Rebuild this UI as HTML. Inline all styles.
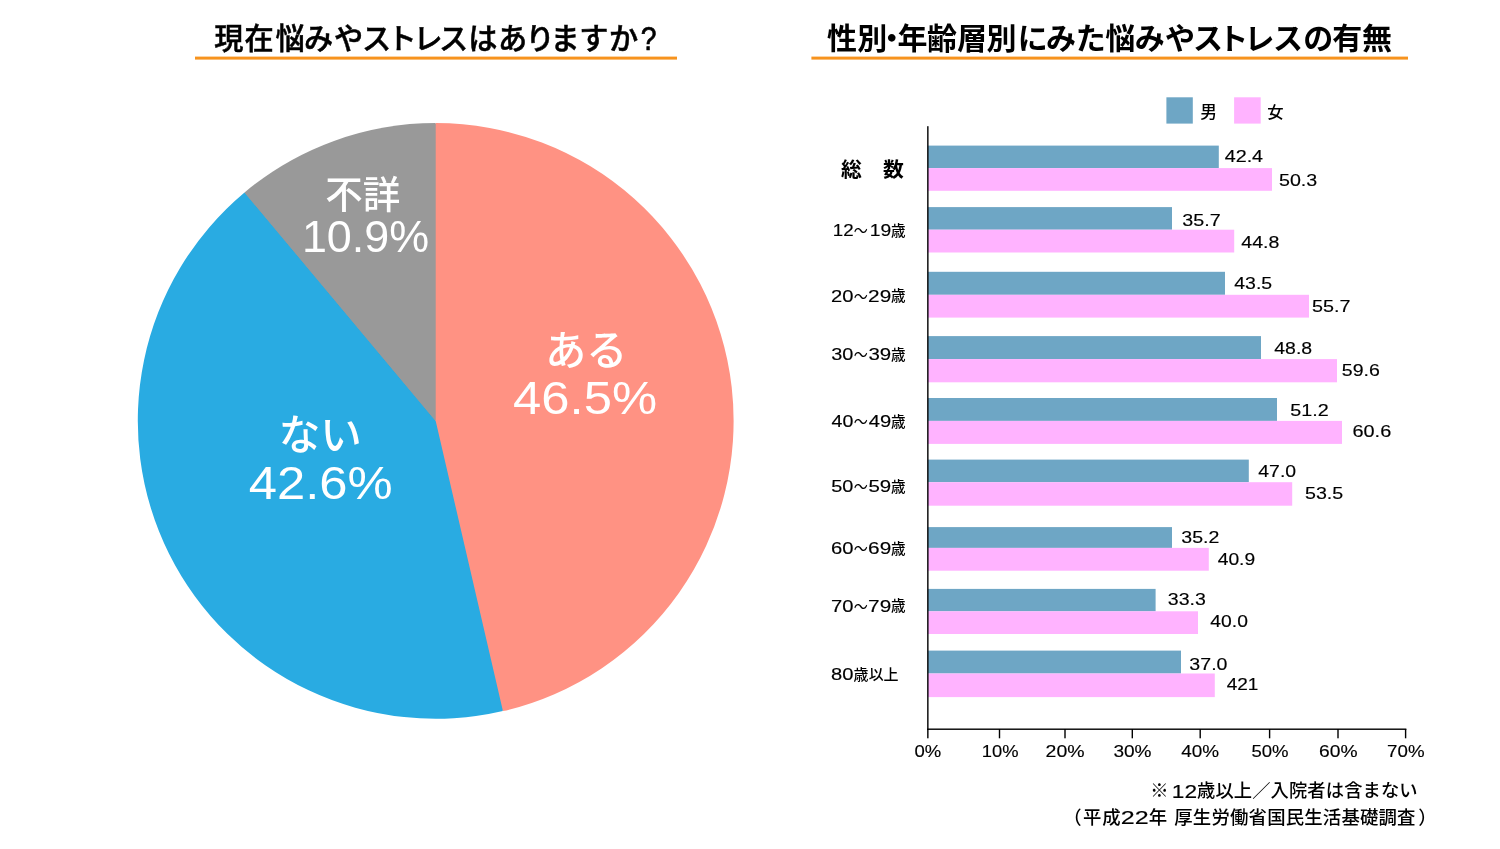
<!DOCTYPE html>
<html lang="ja">
<head>
<meta charset="utf-8">
<title>現在悩みやストレスはありますか?</title>
<style>
html,body{margin:0;padding:0;background:#fff;}
body{width:1500px;height:849px;overflow:hidden;}
svg{display:block;}
text{fill:#000;}
.la{font-family:"Liberation Sans","Noto Sans CJK JP",sans-serif;}
.jp{font-family:"Noto Sans CJK JP","Liberation Sans",sans-serif;}
.t1{font-weight:500;stroke:#000;stroke-width:0.5px;}
.t2{font-weight:700;}
</style>
</head>
<body>
<svg width="1500" height="849" viewBox="0 0 1500 849">
<rect width="1500" height="849" fill="#fff"/>

<text class="jp t1" y="48.9" font-size="29.2" x="214.2 244.4 275.5 303.9 334.0 362.1 387.5 413.6 439.1 468.2 498.1 525.4 550.6 579.3 608.9">現在悩みやストレスはありますか<tspan class="la" x="640.82" y="49.8" style="font-size:33px;font-weight:400;stroke:#000;stroke-width:0.7px" textLength="15.68" lengthAdjust="spacingAndGlyphs">?</tspan></text>
<rect x="195" y="56.6" width="482" height="3" fill="#F7931E"/>
<text class="jp t2" y="49.3" font-size="30" x="826.9 857.2 876.8 897.4 927.0 957.0 986.6 1017.7 1046.0 1075.8 1105.2 1134.8 1165.0 1193.1 1218.3 1244.4 1273.1 1303.2 1332.2 1362.1">性別・年齢層別にみた悩みやストレスの有無</text>
<rect x="811.4" y="56.6" width="596.6" height="3" fill="#F7931E"/>
<path d="M435.70,420.90 L638.34,637.90 A296.9,296.9 0 1 1 384.55,128.44 Z" fill="#29ABE2"/>
<path d="M435.70,420.90 L502.92,711.12 A297.9,297.9 0 0 1 244.53,192.43 Z" fill="#29ABE2"/>
<path d="M435.70,420.90 L245.17,193.20 A296.9,296.9 0 0 1 584.15,163.78 Z" fill="#999999"/>
<path d="M435.70,420.90 L244.53,192.43 A297.9,297.9 0 0 1 435.70,123.00 Z" fill="#999999"/>
<path d="M435.70,420.90 L435.70,123.00 A297.9,297.9 0 0 1 502.92,711.12 Z" fill="#FF9283"/>
<text class="jp" x="325.33" y="207.68" font-size="37.5" font-weight="500" style="fill:#fff">不詳</text>
<text class="la" x="301.90" y="252.40" font-size="43.6" style="fill:#fff" textLength="127.24" lengthAdjust="spacingAndGlyphs">10.9%</text>
<text class="jp" x="545.16" y="365.14" font-size="41" font-weight="500" style="fill:#fff">ある</text>
<text class="la" x="513.11" y="414.10" font-size="46.5" style="fill:#fff" textLength="143.90" lengthAdjust="spacingAndGlyphs">46.5%</text>
<text class="jp" x="278.66" y="449.71" font-size="41.5" font-weight="500" style="fill:#fff">ない</text>
<text class="la" x="248.71" y="499.10" font-size="46.5" style="fill:#fff" textLength="143.90" lengthAdjust="spacingAndGlyphs">42.6%</text>
<rect x="1166.4" y="97.3" width="26.4" height="26.3" fill="#6EA6C5"/>
<rect x="1234.1" y="97.3" width="26.6" height="26.3" fill="#FFB3FF"/>
<text class="jp" x="1200.17" y="118.33" font-size="16.8" font-weight="500">男</text>
<text class="jp" x="1267.33" y="118.46" font-size="16.4" font-weight="500">女</text>
<rect x="927.8" y="145.6" width="291.0" height="22.5" fill="#6EA6C5"/>
<rect x="927.8" y="168.1" width="344.2" height="22.7" fill="#FFB3FF"/>
<rect x="927.8" y="207.1" width="244.2" height="22.6" fill="#6EA6C5"/>
<rect x="927.8" y="229.7" width="306.4" height="22.8" fill="#FFB3FF"/>
<rect x="927.8" y="271.8" width="297.2" height="23.0" fill="#6EA6C5"/>
<rect x="927.8" y="294.8" width="381.2" height="22.8" fill="#FFB3FF"/>
<rect x="927.8" y="336.1" width="333.2" height="23.0" fill="#6EA6C5"/>
<rect x="927.8" y="359.1" width="409.2" height="23.2" fill="#FFB3FF"/>
<rect x="927.8" y="398.0" width="349.2" height="22.9" fill="#6EA6C5"/>
<rect x="927.8" y="420.9" width="414.2" height="23.0" fill="#FFB3FF"/>
<rect x="927.8" y="459.6" width="321.0" height="22.6" fill="#6EA6C5"/>
<rect x="927.8" y="482.2" width="364.4" height="23.5" fill="#FFB3FF"/>
<rect x="927.8" y="527.1" width="244.2" height="20.8" fill="#6EA6C5"/>
<rect x="927.8" y="547.9" width="281.0" height="22.8" fill="#FFB3FF"/>
<rect x="927.8" y="588.9" width="227.8" height="22.4" fill="#6EA6C5"/>
<rect x="927.8" y="611.3" width="270.2" height="22.7" fill="#FFB3FF"/>
<rect x="927.8" y="650.6" width="253.2" height="22.9" fill="#6EA6C5"/>
<rect x="927.8" y="673.5" width="287.0" height="23.6" fill="#FFB3FF"/>
<text class="la" x="1224.69" y="162.10" font-size="15.9" textLength="38.40" lengthAdjust="spacingAndGlyphs" stroke="#000" stroke-width="0.15">42.4</text>
<text class="la" x="1278.99" y="185.70" font-size="15.9" textLength="38.21" lengthAdjust="spacingAndGlyphs" stroke="#000" stroke-width="0.15">50.3</text>
<text class="la" x="1182.38" y="225.70" font-size="15.9" textLength="38.42" lengthAdjust="spacingAndGlyphs" stroke="#000" stroke-width="0.15">35.7</text>
<text class="la" x="1241.29" y="247.70" font-size="15.9" textLength="38.10" lengthAdjust="spacingAndGlyphs" stroke="#000" stroke-width="0.15">44.8</text>
<text class="la" x="1234.30" y="289.10" font-size="15.9" textLength="37.89" lengthAdjust="spacingAndGlyphs" stroke="#000" stroke-width="0.15">43.5</text>
<text class="la" x="1311.98" y="311.70" font-size="15.9" textLength="38.42" lengthAdjust="spacingAndGlyphs" stroke="#000" stroke-width="0.15">55.7</text>
<text class="la" x="1274.30" y="353.50" font-size="15.9" textLength="37.89" lengthAdjust="spacingAndGlyphs" stroke="#000" stroke-width="0.15">48.8</text>
<text class="la" x="1341.79" y="375.70" font-size="15.9" textLength="38.00" lengthAdjust="spacingAndGlyphs" stroke="#000" stroke-width="0.15">59.6</text>
<text class="la" x="1290.38" y="416.10" font-size="15.9" textLength="38.42" lengthAdjust="spacingAndGlyphs" stroke="#000" stroke-width="0.15">51.2</text>
<text class="la" x="1352.47" y="437.10" font-size="15.9" textLength="38.74" lengthAdjust="spacingAndGlyphs" stroke="#000" stroke-width="0.15">60.6</text>
<text class="la" x="1258.30" y="476.70" font-size="15.9" textLength="37.79" lengthAdjust="spacingAndGlyphs" stroke="#000" stroke-width="0.15">47.0</text>
<text class="la" x="1304.99" y="499.10" font-size="15.9" textLength="38.21" lengthAdjust="spacingAndGlyphs" stroke="#000" stroke-width="0.15">53.5</text>
<text class="la" x="1181.39" y="542.50" font-size="15.9" textLength="38.00" lengthAdjust="spacingAndGlyphs" stroke="#000" stroke-width="0.15">35.2</text>
<text class="la" x="1217.70" y="565.10" font-size="15.9" textLength="37.48" lengthAdjust="spacingAndGlyphs" stroke="#000" stroke-width="0.15">40.9</text>
<text class="la" x="1167.79" y="605.10" font-size="15.9" textLength="38.00" lengthAdjust="spacingAndGlyphs" stroke="#000" stroke-width="0.15">33.3</text>
<text class="la" x="1210.30" y="626.70" font-size="15.9" textLength="37.58" lengthAdjust="spacingAndGlyphs" stroke="#000" stroke-width="0.15">40.0</text>
<text class="la" x="1189.39" y="669.70" font-size="15.9" textLength="38.10" lengthAdjust="spacingAndGlyphs" stroke="#000" stroke-width="0.15">37.0</text>
<text class="la" x="1226.70" y="690.10" font-size="15.9" textLength="31.67" lengthAdjust="spacingAndGlyphs" stroke="#000" stroke-width="0.15">421</text>
<g fill="#000">
<rect x="927.15" y="126.2" width="1.4" height="603.7"/>
<rect x="927.15" y="728.5" width="479.2" height="1.4"/>
<rect x="927.15" y="729" width="1.4" height="9.3"/>
<rect x="998.80" y="729" width="1.4" height="9.3"/>
<rect x="1064.30" y="729" width="1.4" height="9.3"/>
<rect x="1131.60" y="729" width="1.4" height="9.3"/>
<rect x="1199.50" y="729" width="1.4" height="9.3"/>
<rect x="1268.90" y="729" width="1.4" height="9.3"/>
<rect x="1337.30" y="729" width="1.4" height="9.3"/>
<rect x="1404.90" y="729" width="1.4" height="9.3"/>
</g>
<text class="la" x="914.42" y="756.80" font-size="17.0" textLength="26.73" lengthAdjust="spacingAndGlyphs" stroke="#000" stroke-width="0.15">0%</text>
<text class="la" x="981.85" y="756.80" font-size="17.0" textLength="36.69" lengthAdjust="spacingAndGlyphs" stroke="#000" stroke-width="0.15">10%</text>
<text class="la" x="1045.59" y="756.80" font-size="17.0" textLength="38.99" lengthAdjust="spacingAndGlyphs" stroke="#000" stroke-width="0.15">20%</text>
<text class="la" x="1113.40" y="756.80" font-size="17.0" textLength="38.16" lengthAdjust="spacingAndGlyphs" stroke="#000" stroke-width="0.15">30%</text>
<text class="la" x="1181.30" y="756.80" font-size="17.0" textLength="37.86" lengthAdjust="spacingAndGlyphs" stroke="#000" stroke-width="0.15">40%</text>
<text class="la" x="1251.42" y="756.80" font-size="17.0" textLength="37.13" lengthAdjust="spacingAndGlyphs" stroke="#000" stroke-width="0.15">50%</text>
<text class="la" x="1319.10" y="756.80" font-size="17.0" textLength="38.47" lengthAdjust="spacingAndGlyphs" stroke="#000" stroke-width="0.15">60%</text>
<text class="la" x="1387.12" y="756.80" font-size="17.0" textLength="37.43" lengthAdjust="spacingAndGlyphs" stroke="#000" stroke-width="0.15">70%</text>
<text class="jp" x="840.90" y="176.65" font-size="20.8" font-weight="700">総</text>
<text class="jp" x="882.97" y="176.65" font-size="20.8" font-weight="700">数</text>
<text class="la" x="832.83" y="235.80" font-size="15.8" textLength="20.83" lengthAdjust="spacingAndGlyphs" stroke="#000" stroke-width="0.15">12</text>
<text class="jp" x="853.66" y="235.80" font-size="15" textLength="14.08" lengthAdjust="spacingAndGlyphs">～</text>
<text class="la" x="869.69" y="235.80" font-size="15.8" textLength="21.49" lengthAdjust="spacingAndGlyphs" stroke="#000" stroke-width="0.15">19</text>
<text class="jp" x="891.07" y="235.73" font-size="14.6" font-weight="500">歳</text>
<text class="la" x="830.95" y="301.50" font-size="15.8" textLength="22.45" lengthAdjust="spacingAndGlyphs" stroke="#000" stroke-width="0.15">20</text>
<text class="jp" x="853.66" y="301.50" font-size="15" textLength="14.08" lengthAdjust="spacingAndGlyphs">～</text>
<text class="la" x="868.13" y="301.50" font-size="15.8" textLength="23.12" lengthAdjust="spacingAndGlyphs" stroke="#000" stroke-width="0.15">29</text>
<text class="jp" x="891.07" y="301.43" font-size="14.6" font-weight="500">歳</text>
<text class="la" x="831.28" y="359.60" font-size="15.8" textLength="22.12" lengthAdjust="spacingAndGlyphs" stroke="#000" stroke-width="0.15">30</text>
<text class="jp" x="853.66" y="359.60" font-size="15" textLength="14.08" lengthAdjust="spacingAndGlyphs">～</text>
<text class="la" x="868.46" y="359.60" font-size="15.8" textLength="22.77" lengthAdjust="spacingAndGlyphs" stroke="#000" stroke-width="0.15">39</text>
<text class="jp" x="891.07" y="359.53" font-size="14.6" font-weight="500">歳</text>
<text class="la" x="831.59" y="427.40" font-size="15.8" textLength="21.79" lengthAdjust="spacingAndGlyphs" stroke="#000" stroke-width="0.15">40</text>
<text class="jp" x="853.66" y="427.40" font-size="15" textLength="14.08" lengthAdjust="spacingAndGlyphs">～</text>
<text class="la" x="868.78" y="427.40" font-size="15.8" textLength="22.43" lengthAdjust="spacingAndGlyphs" stroke="#000" stroke-width="0.15">49</text>
<text class="jp" x="891.07" y="427.33" font-size="14.6" font-weight="500">歳</text>
<text class="la" x="831.28" y="492.20" font-size="15.8" textLength="22.12" lengthAdjust="spacingAndGlyphs" stroke="#000" stroke-width="0.15">50</text>
<text class="jp" x="853.66" y="492.20" font-size="15" textLength="14.08" lengthAdjust="spacingAndGlyphs">～</text>
<text class="la" x="868.46" y="492.20" font-size="15.8" textLength="22.77" lengthAdjust="spacingAndGlyphs" stroke="#000" stroke-width="0.15">59</text>
<text class="jp" x="891.07" y="492.13" font-size="14.6" font-weight="500">歳</text>
<text class="la" x="830.95" y="553.80" font-size="15.8" textLength="22.45" lengthAdjust="spacingAndGlyphs" stroke="#000" stroke-width="0.15">60</text>
<text class="jp" x="853.66" y="553.80" font-size="15" textLength="14.08" lengthAdjust="spacingAndGlyphs">～</text>
<text class="la" x="868.13" y="553.80" font-size="15.8" textLength="23.12" lengthAdjust="spacingAndGlyphs" stroke="#000" stroke-width="0.15">69</text>
<text class="jp" x="891.07" y="553.73" font-size="14.6" font-weight="500">歳</text>
<text class="la" x="830.95" y="611.50" font-size="15.8" textLength="22.45" lengthAdjust="spacingAndGlyphs" stroke="#000" stroke-width="0.15">70</text>
<text class="jp" x="853.66" y="611.50" font-size="15" textLength="14.08" lengthAdjust="spacingAndGlyphs">～</text>
<text class="la" x="868.13" y="611.50" font-size="15.8" textLength="23.12" lengthAdjust="spacingAndGlyphs" stroke="#000" stroke-width="0.15">79</text>
<text class="jp" x="891.07" y="611.43" font-size="14.6" font-weight="500">歳</text>
<text class="la" x="830.97" y="680.10" font-size="15.8" textLength="22.43" lengthAdjust="spacingAndGlyphs" stroke="#000" stroke-width="0.15">80</text>
<text class="jp" x="853.57" y="679.99" font-size="15" font-weight="500">歳</text>
<text class="jp" x="868.87" y="679.99" font-size="15" font-weight="500">以</text>
<text class="jp" x="883.40" y="679.99" font-size="15" font-weight="500">上</text>
<text class="jp" x="1150.21" y="797.40" font-size="18.3" font-weight="500">※</text>
<text class="la" x="1171.88" y="797.80" font-size="19.2" textLength="25.24" lengthAdjust="spacingAndGlyphs" stroke="#000" stroke-width="0.15">12</text>
<text class="jp" x="1197.0" y="797.4" font-size="18.3" font-weight="500" textLength="220.6" lengthAdjust="spacing">歳以上／入院者は含まない</text>
<text class="jp" x="1063.34" y="824.00" font-size="18.4" font-weight="500">（</text>
<text class="jp" x="1083.0" y="824.0" font-size="18.4" font-weight="500" textLength="37.6" lengthAdjust="spacing">平成</text>
<text class="la" x="1120.82" y="824.40" font-size="19.2" textLength="27.89" lengthAdjust="spacingAndGlyphs" stroke="#000" stroke-width="0.15">22</text>
<text class="jp" x="1148.72" y="824.00" font-size="18.4" font-weight="500">年</text>
<text class="jp" x="1174.3" y="824.0" font-size="18.4" font-weight="500" textLength="241.2" lengthAdjust="spacing">厚生労働省国民生活基礎調査</text>
<text class="jp" x="1418.22" y="824.00" font-size="18.4" font-weight="500">）</text>
</svg>
</body>
</html>
